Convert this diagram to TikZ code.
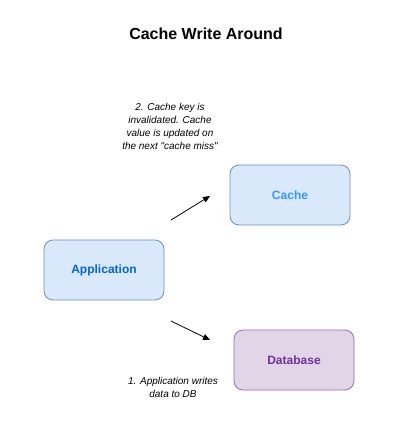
\documentclass[tikz,border=0pt]{standalone}
\usepackage{fontspec}
\setmainfont{Liberation Sans}
\usetikzlibrary{arrows.meta}
\definecolor{bluefill}{HTML}{DAE8FC}
\definecolor{bluestroke}{HTML}{6C8EBF}
\definecolor{purplefill}{HTML}{E1D5E7}
\definecolor{purplestroke}{HTML}{9673A6}
\definecolor{cachetext}{HTML}{3399FF}
\definecolor{apptext}{HTML}{0066CC}
\definecolor{dbtext}{HTML}{7030A0}
\tikzset{
  box/.style={draw, rounded corners=9pt, minimum width=120pt, minimum height=60pt, inner sep=0pt, line width=0.8pt, font=\fontsize{12}{14}\selectfont\bfseries},
  bluebox/.style={box, fill=bluefill, draw=bluestroke},
  purplebox/.style={box, fill=purplefill, draw=purplestroke},
  note/.style={align=center, font=\fontsize{10}{13}\selectfont\itshape},
  arr/.style={-{Triangle[length=7pt,width=6pt]}, line width=0.8pt}
}
\begin{document}
\begin{tikzpicture}[x=1pt,y=-1pt]
\useasboundingbox (0,0) rectangle (400,440);
\node[font=\fontsize{16}{18}\selectfont\bfseries] (title) at (206,34) {Cache Write Around};
\node[bluebox, text=cachetext] (cache) at (290,195) {Cache};
\node[bluebox, text=apptext] (app) at (104,270) {Application};
\node[purplebox, text=dbtext] (db) at (294,360) {Database};
\node[note] (n2) at (170,126.5) {2. Cache key is\\invalidated. Cache\\value is updated on\\the next \textquotedbl cache miss\textquotedbl};
\node[note] (n1) at (173,387) {1. Application writes\\data to DB};
\coordinate (a1s) at (171,220);
\coordinate (a1e) at (210,196);
\coordinate (a2s) at (171,321);
\coordinate (a2e) at (210,340);
\draw[arr] (a1s) -- (a1e);
\draw[arr] (a2s) -- (a2e);
\end{tikzpicture}
\end{document}
